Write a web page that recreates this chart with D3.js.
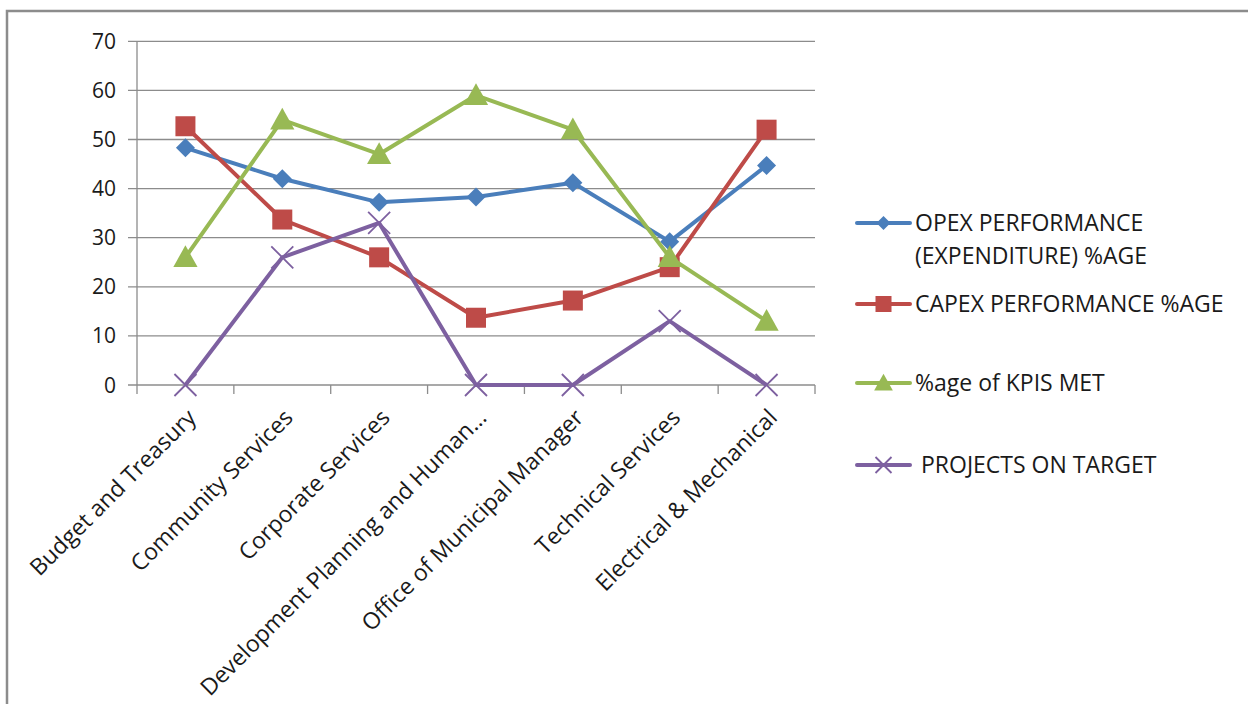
<!DOCTYPE html>
<html>
<head>
<meta charset="utf-8">
<script src="https://cdn.jsdelivr.net/npm/d3@7"></script>
<style>
  html, body { margin: 0; padding: 0; background: #fff; }
  svg { display: block; }
  text { font-family: "Open Sans", "Noto Sans", sans-serif; fill: #1a1a1a; }
</style>
</head>
<body>
<svg id="chart" width="1248" height="704"></svg>
<script>
// Departments along the category axis
const categories = [
  "Budget and Treasury",
  "Community Services",
  "Corporate Services",
  "Development Planning and Human\u2026",
  "Office of Municipal Manager",
  "Technical Services",
  "Electrical & Mechanical"
];

// Series values (percent)
const opex     = [48.3, 42.0, 37.2, 38.3, 41.2, 29.2, 44.7];
const capex    = [52.7, 33.7, 26.0, 13.7, 17.2, 24.0, 52.0];
const kpisMet  = [26.0, 54.0, 47.0, 59.0, 52.0, 26.0, 13.0];
const projects = [0, 26, 33, 0, 0, 13, 0];

const yTicks = [0, 10, 20, 30, 40, 50, 60, 70];

const series = [
  { name: ["OPEX PERFORMANCE", "(EXPENDITURE) %AGE"], values: opex, color: "#4a7ebb", marker: "diamond" },
  { name: ["CAPEX PERFORMANCE %AGE"], values: capex, color: "#be4b48", marker: "square" },
  { name: ["%age of KPIS MET"], values: kpisMet, color: "#98b954", marker: "triangle" },
  { name: [" PROJECTS ON TARGET"], values: projects, color: "#7d60a0", marker: "cross" }
];

const svg = d3.select("#chart");

// Outer chart frame (top and left edges visible)
svg.append("path")
  .attr("d", "M7,704 L7,11 L1248,11")
  .attr("fill", "none")
  .attr("stroke", "#8c8c8c")
  .attr("stroke-width", 2.5);

const plot = { left: 137, right: 815, top: 41.3, bottom: 385 };

const x = d3.scaleBand().domain(categories).range([plot.left, plot.right]);
const y = d3.scaleLinear().domain([0, 70]).range([plot.bottom, plot.top]);
const cx = c => x(c) + x.bandwidth() / 2;

// Horizontal gridlines
svg.append("g")
  .selectAll("line")
  .data(yTicks)
  .join("line")
  .attr("x1", plot.left - 9)
  .attr("x2", plot.right)
  .attr("y1", d => y(d))
  .attr("y2", d => y(d))
  .attr("stroke", "#8c8c8c")
  .attr("stroke-width", 1.3);

// Y axis line and labels
svg.append("line")
  .attr("x1", plot.left).attr("x2", plot.left)
  .attr("y1", plot.top).attr("y2", plot.bottom)
  .attr("stroke", "#8c8c8c").attr("stroke-width", 1.3);

svg.append("g")
  .selectAll("text")
  .data(yTicks)
  .join("text")
  .attr("x", 116)
  .attr("y", d => y(d))
  .attr("dy", "0.36em")
  .attr("text-anchor", "end")
  .attr("font-size", 21)
  .text(d => d);

// X axis tick marks at category boundaries
const boundaries = categories.map(c => x(c)).concat([plot.right]);
svg.append("g")
  .selectAll("line")
  .data(boundaries)
  .join("line")
  .attr("x1", d => d).attr("x2", d => d)
  .attr("y1", plot.bottom).attr("y2", plot.bottom + 9)
  .attr("stroke", "#8c8c8c").attr("stroke-width", 1.3);

// Rotated category labels
svg.append("g")
  .selectAll("text")
  .data(categories)
  .join("text")
  .attr("text-anchor", "end")
  .attr("font-size", 23)
  .attr("transform", d => `translate(${cx(d) + 12},${419}) rotate(-45)`)
  .text(d => d);

// Marker shapes
function drawMarker(g, type, color, size) {
  if (type === "diamond") {
    const s = size * 0.5;
    g.append("path").attr("d", `M0,${-s} L${s},0 L0,${s} L${-s},0 Z`).attr("fill", color);
  } else if (type === "square") {
    const s = size * 0.5;
    g.append("rect").attr("x", -s).attr("y", -s).attr("width", 2 * s).attr("height", 2 * s).attr("fill", color);
  } else if (type === "triangle") {
    const s = size * 0.55;
    g.append("path").attr("d", `M0,${-s} L${s},${s * 0.8} L${-s},${s * 0.8} Z`).attr("fill", color);
  } else if (type === "cross") {
    const s = size * 0.5;
    g.append("path").attr("d", `M${-s},${-s} L${s},${s} M${-s},${s} L${s},${-s}`)
      .attr("stroke", color).attr("stroke-width", 1.8).attr("fill", "none");
  }
}

const markerSize = { diamond: 19, square: 20, triangle: 22, cross: 22 };

// Lines and markers
series.forEach(s => {
  const line = d3.line()
    .x((d, i) => cx(categories[i]))
    .y(d => y(d));
  svg.append("path")
    .datum(s.values)
    .attr("d", line)
    .attr("fill", "none")
    .attr("stroke", s.color)
    .attr("stroke-width", 4)
    .attr("stroke-linejoin", "round");
  s.values.forEach((v, i) => {
    const g = svg.append("g").attr("transform", `translate(${cx(categories[i])},${y(v)})`);
    drawMarker(g, s.marker, s.color, markerSize[s.marker]);
  });
});

// Legend
const legendY = [223, 304, 383, 465];
series.forEach((s, i) => {
  const g = svg.append("g").attr("transform", `translate(857,${legendY[i]})`);
  g.append("line").attr("x1", 0).attr("x2", 53).attr("y1", 0).attr("y2", 0)
    .attr("stroke", s.color).attr("stroke-width", 4).attr("stroke-linecap", "round");
  const mg = g.append("g").attr("transform", "translate(26.5,0)");
  const small = { diamond: 14, square: 16, triangle: 17, cross: 16 };
  drawMarker(mg, s.marker, s.color, small[s.marker]);
  s.name.forEach((t, j) => {
    g.append("text")
      .attr("x", 58)
      .attr("y", j * 33)
      .attr("dy", "0.36em")
      .attr("font-size", 23)
      .style("white-space", "pre")
      .text(t);
  });
});
</script>
</body>
</html>
